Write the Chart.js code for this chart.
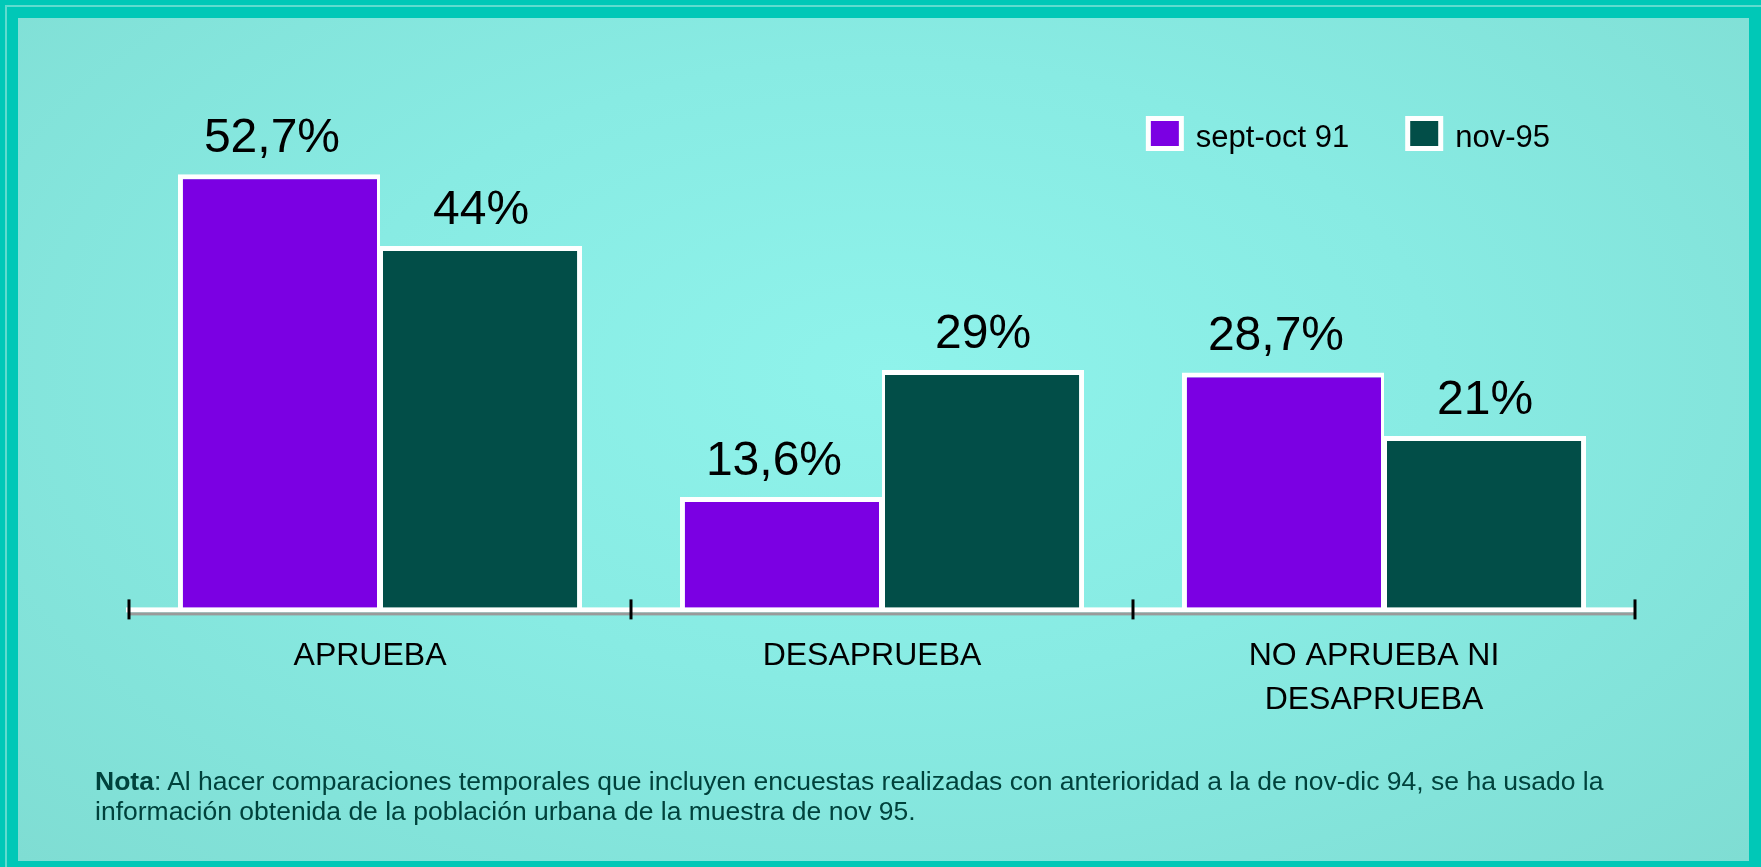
<!DOCTYPE html>
<html>
<head>
<meta charset="utf-8">
<script src="https://cdn.jsdelivr.net/npm/chart.js@4/dist/chart.umd.min.js"></script>
<style>
  body { margin: 0; overflow: hidden; }
  #frame {
    position: absolute; left: 0; top: 0; width: 1761px; height: 867px;
    background: #00c8b7;
  }
  #line {
    position: absolute; left: 5px; top: 5px; right: 0; bottom: 0;
    border-left: 2px solid #5fdccf; border-top: 2px solid #5fdccf;
  }
  #inner {
    position: absolute; left: 18px; top: 18px; width: 1731px; height: 843px;
    background: radial-gradient(ellipse at 50% 42%, #8ff3eb 0%, #88ebe3 45%, #7fddd3 100%);
  }
  #chart { position: absolute; left: 0; top: 0; }
  #nota {
    position: absolute; left: 95px; top: 766px; width: 1640px;
    font-family: "Liberation Sans", Arial, sans-serif; font-size: 26.5px; line-height: 30px;
    color: #00423c;
  }
</style>
</head>
<body>
<div id="frame"><div id="line"></div><div id="inner"></div></div>
<canvas id="chart" width="1761" height="867"></canvas>
<div id="nota"><b>Nota</b>: Al hacer comparaciones temporales que incluyen encuestas realizadas con anterioridad a la de nov-dic 94, se ha usado la<br>información obtenida de la población urbana de la muestra de nov 95.</div>
<script>
// data
const categories = ["APRUEBA", "DESAPRUEBA", ["NO APRUEBA NI", "DESAPRUEBA"]];
const seriesNames = ["sept-oct 91", "nov-95"];
const sept91 = [52.7, 13.6, 28.7];
const nov95 = [44, 29, 21];

const FONT = '"Liberation Sans", Arial, sans-serif';

function fmt(v) {
  return String(v).replace(".", ",") + "%";
}

// percent labels above the bars
const valueLabels = {
  id: "valueLabels",
  afterDatasetsDraw(chart) {
    const ctx = chart.ctx;
    const shift = [-7, 0];
    ctx.save();
    ctx.font = "48px " + FONT;
    ctx.fillStyle = "#000";
    ctx.textAlign = "center";
    ctx.textBaseline = "alphabetic";
    chart.data.datasets.forEach((ds, i) => {
      chart.getDatasetMeta(i).data.forEach((bar, j) => {
        ctx.fillText(fmt(ds.data[j]), bar.x + shift[i], bar.y - 22);
      });
    });
    ctx.restore();
  }
};

// baseline (white + grey) and the black tick marks between categories
const baseAxis = {
  id: "baseAxis",
  afterDatasetsDraw(chart) {
    const ctx = chart.ctx;
    const x = chart.scales.x;
    const y = chart.chartArea.bottom;
    ctx.save();
    ctx.fillStyle = "#ffffff";
    ctx.fillRect(x.left - 3, y - 2, x.right - x.left + 3, 5);
    ctx.fillStyle = "#9a9a9a";
    ctx.fillRect(x.left, y + 3, x.right - x.left, 3);
    ctx.strokeStyle = "#000";
    ctx.lineWidth = 3;
    for (let i = 0; i <= categories.length; i++) {
      const px = Math.round(x.getPixelForValue(i - 0.5));
      ctx.beginPath();
      ctx.moveTo(px, y - 10);
      ctx.lineTo(px, y + 10);
      ctx.stroke();
    }
    ctx.restore();
  }
};

// legend top right: white-edged squares
const boxLegend = {
  id: "boxLegend",
  afterDraw(chart) {
    const ctx = chart.ctx;
    const bw = 38, bh = 35, edge = 5, gapText = 12, gapItem = 56;
    const top = 116;
    ctx.save();
    ctx.font = "31px " + FONT;
    ctx.textBaseline = "alphabetic";
    ctx.textAlign = "left";
    const items = chart.data.datasets.map(ds => ({
      text: ds.label, color: ds.backgroundColor, w: ctx.measureText(ds.label).width
    }));
    let total = 0;
    items.forEach((it, i) => { total += bw + gapText + it.w + (i ? gapItem : 0); });
    let x = chart.chartArea.right - 85 - total;
    items.forEach(it => {
      ctx.fillStyle = "#ffffff";
      ctx.fillRect(x, top, bw, bh);
      ctx.fillStyle = it.color;
      ctx.fillRect(x + edge, top + edge, bw - 2 * edge, bh - 2 * edge);
      ctx.fillStyle = "#000";
      ctx.fillText(it.text, x + bw + gapText, top + 31);
      x += bw + gapText + it.w + gapItem;
    });
    ctx.restore();
  }
};

new Chart(document.getElementById("chart"), {
  type: "bar",
  data: {
    labels: categories,
    datasets: [
      {
        label: seriesNames[0],
        data: sept91,
        backgroundColor: "#7b00e3",
        borderColor: "#ffffff",
        borderWidth: { top: 5, left: 5, right: 3, bottom: 0 }
      },
      {
        label: seriesNames[1],
        data: nov95,
        backgroundColor: "#024e48",
        borderColor: "#ffffff",
        borderWidth: { top: 5, left: 3, right: 5, bottom: 0 }
      }
    ]
  },
  options: {
    responsive: false,
    animation: false,
    layout: { padding: { left: 129, right: 126, top: 114, bottom: 128 } },
    datasets: { bar: { categoryPercentage: 0.805, barPercentage: 1.0 } },
    scales: {
      y: { display: false, min: 0, max: 60 },
      x: {
        grid: { display: false },
        border: { display: false },
        ticks: {
          color: "#000",
          padding: 16,
          labelOffset: -10,
          maxRotation: 0,
          font: { family: FONT, size: 32, lineHeight: 1.4 }
        }
      }
    },
    plugins: {
      tooltip: { enabled: false },
      legend: { display: false }
    }
  },
  plugins: [valueLabels, baseAxis, boxLegend]
});
</script>
</body>
</html>
